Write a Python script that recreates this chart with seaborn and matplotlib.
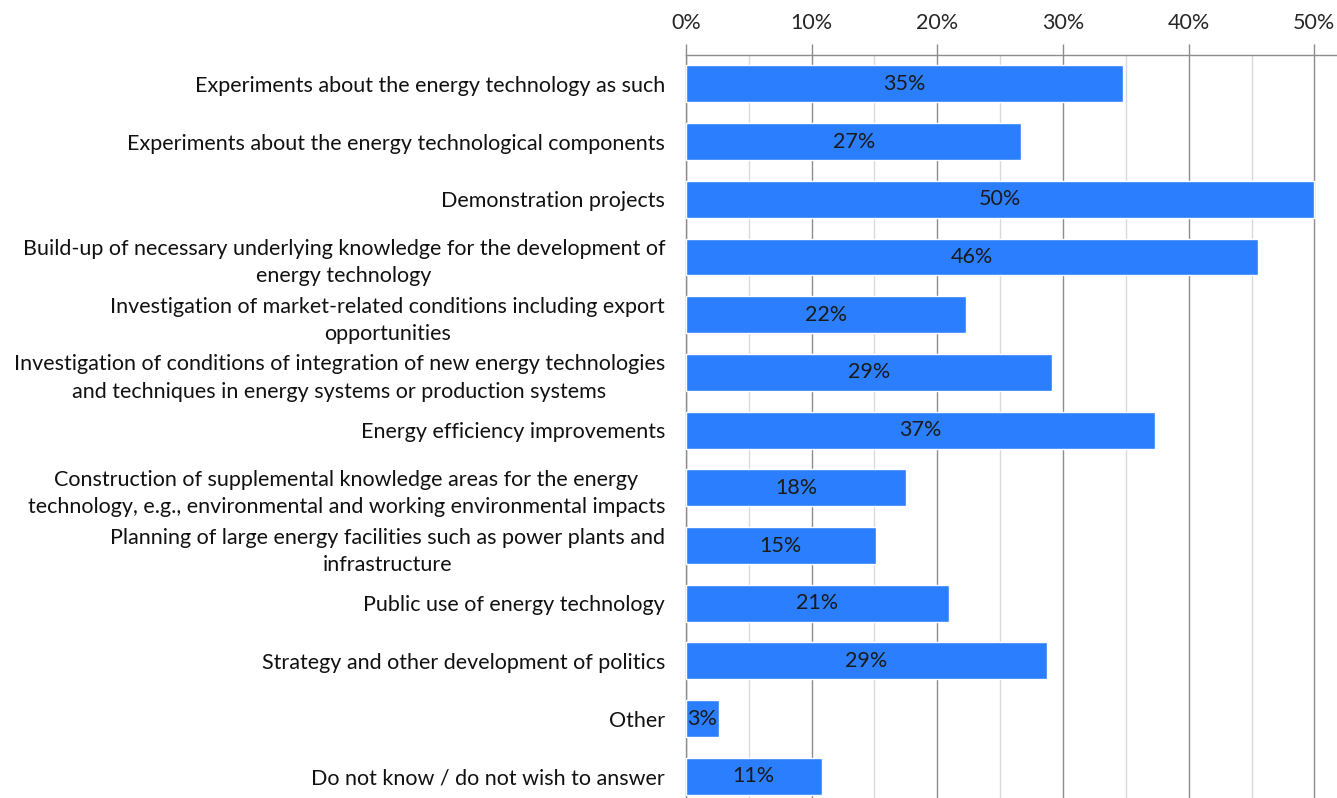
import numpy as np
import pandas as pd
import seaborn as sns
import matplotlib.pyplot as plt
from matplotlib.ticker import MultipleLocator, PercentFormatter

categorias = [
    "Experiments about the energy technology as such",
    "Experiments about the energy technological components",
    "Demonstration projects",
    "Build-up of necessary underlying knowledge for the development of\nenergy technology",
    "Investigation of market-related conditions including export\nopportunities",
    "Investigation of conditions of integration of new energy technologies\nand techniques in energy systems or production systems",
    "Energy efficiency improvements",
    "Construction of supplemental knowledge areas for the energy\ntechnology, e.g., environmental and working environmental impacts",
    "Planning of large energy facilities such as power plants and\ninfrastructure",
    "Public use of energy technology",
    "Strategy and other development of politics",
    "Other",
    "Do not know / do not wish to answer",
]
valores = [0.348, 0.267, 0.50, 0.455, 0.223, 0.291, 0.373, 0.175, 0.151, 0.209, 0.287, 0.026, 0.108]
etiquetas = ["35%", "27%", "50%", "46%", "22%", "29%", "37%", "18%", "15%", "21%", "29%", "3%", "11%"]

df = pd.DataFrame({"categoria": categorias, "valor": valores, "etiqueta": etiquetas})

sns.set_theme(style="white")
plt.rcParams['font.family'] = ['Lato', 'DejaVu Sans']

fig = plt.figure(figsize=(13.37, 7.98), dpi=100)
ax = fig.add_axes([0.513, -0.009, 0.487, 0.94])

sns.barplot(data=df, x="valor", y="categoria", color="#2b7fff", saturation=1,
            width=0.64, ax=ax, zorder=3)

ax.set_xlim(0, 0.518)
ax.set_ylim(12.5, -0.5)
ax.xaxis.set_major_locator(MultipleLocator(0.1))
ax.xaxis.set_minor_locator(MultipleLocator(0.05))
ax.xaxis.set_major_formatter(PercentFormatter(1.0, decimals=0))
ax.xaxis.tick_top()
ax.tick_params(axis="x", which="major", length=8, width=1, color="#8c8c8c",
               labelsize=15.5, labelcolor="#262626", pad=8)
ax.tick_params(axis="x", which="minor", length=0)
ax.tick_params(axis="y", length=0, labelsize=15.5, labelcolor="#111111", pad=15)
for lbl in ax.get_yticklabels():
    lbl.set_multialignment("center")
    lbl.set_linespacing(1.45)

ax.grid(True, axis="x", which="major", color="#8c8c8c", linewidth=1, zorder=0)
ax.grid(True, axis="x", which="minor", color="#d9d9d9", linewidth=1, zorder=0)
ax.set_axisbelow(True)

for side in ["right", "bottom"]:
    ax.spines[side].set_visible(False)
for side in ["top", "left"]:
    ax.spines[side].set_visible(True)
    ax.spines[side].set_color("#8c8c8c")
    ax.spines[side].set_linewidth(1)

ax.set_xlabel("")
ax.set_ylabel("")

for i, (v, t) in enumerate(zip(valores, etiquetas)):
    ax.text(v / 2, i, t, ha="center", va="center", fontsize=15.5, color="#1a1a1a", zorder=4)

fig.savefig("out.png", dpi=100)
